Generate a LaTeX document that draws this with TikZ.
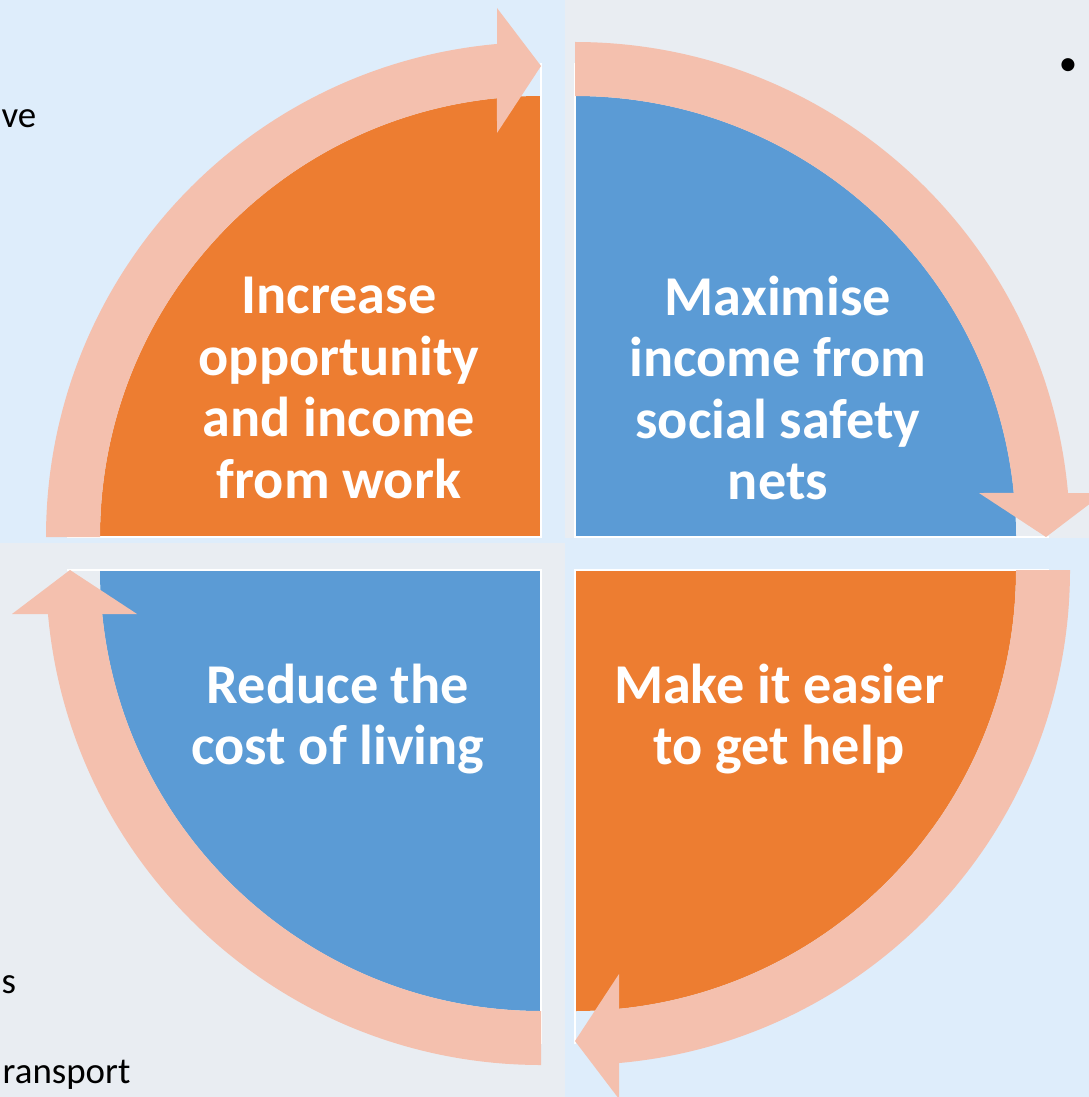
\documentclass[tikz,border=0pt]{standalone}
\usepackage{fontspec}
\setmainfont{Carlito}
\usepackage{xcolor}

\definecolor{paleblue}{HTML}{DEEDFB}
\definecolor{palegrey}{HTML}{E9EDF2}
\definecolor{segorange}{HTML}{ED7D31}
\definecolor{segblue}{HTML}{5B9BD5}
\definecolor{ringpink}{HTML}{F4C0AE}

\begin{document}
\begin{tikzpicture}[
		segtext/.style={text=white,font=\fontsize{16}{17.5}\selectfont\bfseries,align=center,inner sep=0pt},
		sidetext/.style={text=black,font=\fontsize{10.5}{12}\selectfont,inner sep=0pt}]
		
		\useasboundingbox (0,0) rectangle (10.89,-10.97);
		
		% Slide background
		\fill[paleblue] (0,0) rectangle (5.65,-5.43);
		\fill[palegrey] (5.65,0) rectangle (10.89,-5.38);
		\fill[palegrey] (0,-5.43) rectangle (5.65,-10.97);
		\fill[paleblue] (5.65,-5.38) rectangle (10.89,-10.97);
		
		% Quarter discs with their curved arrows
		\foreach \cx/\cy/\rot/\col in {5.41/-5.37/0/segorange,5.75/-5.37/-90/segblue,5.75/-5.70/180/segorange,5.41/-5.70/90/segblue}
		{
			\begin{scope}[shift={(\cx,\cy)},rotate=\rot]
				\fill[\col] (0,0) -- (180:4.41) arc[start angle=180,end angle=90,radius=4.41] -- cycle;
				\draw[white,line width=0.8pt] (180:4.74) -- (0,0) -- (90:4.74);
				\fill[ringpink] (180:4.95) arc[start angle=180,end angle=95.1,radius=4.95]
					-- (-0.44,5.29) -- (0,4.71) -- (-0.44,4.04) -- (95.73:4.41)
					arc[start angle=95.73,end angle=180,radius=4.41] -- cycle;
			\end{scope}
		}
		
		% Labels
		\node[segtext] (work) at (3.39,-3.88) {Increase\\opportunity\\and income\\from work};
		\node[segtext] (safety) at (7.78,-3.88) {Maximise\\income from\\social safety\\nets};
		\node[segtext] (living) at (3.38,-7.19) {Reduce the\\cost of living};
		\node[segtext] (help) at (7.79,-7.19) {Make it easier\\to get help};
		
		% Slide text behind
		\node[sidetext,anchor=base east] (ve) at (0.37,-1.27) {ve};
		\node[sidetext,anchor=base west] (s) at (0.01,-9.93) {s};
		\node[sidetext,anchor=base west] (transport) at (0.02,-10.83) {ransport};
		\node[sidetext] (bullet) at (10.68,-0.67) {•};
		
	\end{tikzpicture}
\end{document}
